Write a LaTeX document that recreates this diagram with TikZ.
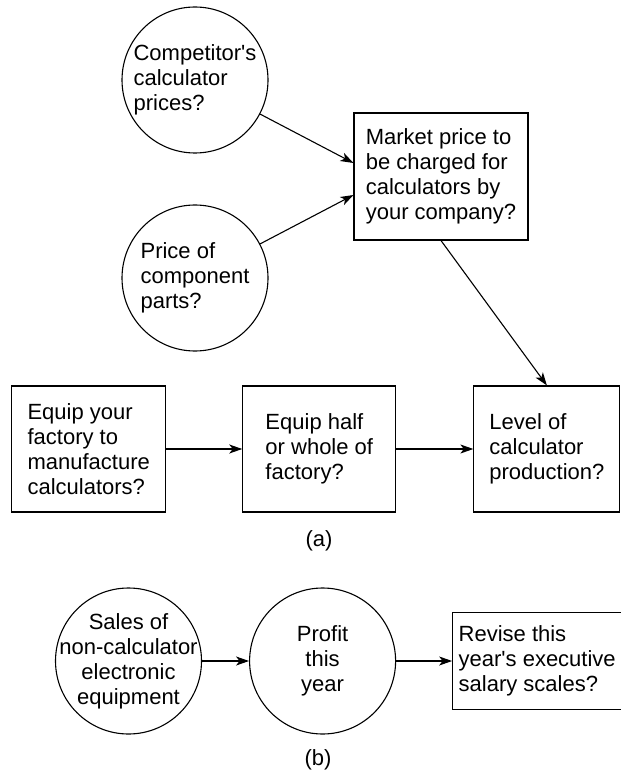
\documentclass[tikz,border=0pt]{standalone}
\usepackage{fontspec}
\setmainfont{Liberation Sans}
\usetikzlibrary{positioning, arrows.meta, calc}

\begin{document}
\begin{tikzpicture}[
    x=1pt, y=-1pt,
    every node/.style={font=\fontsize{22}{25}\selectfont},
    line width=1.1pt,
    >={Stealth[length=13pt, width=9pt, inset=3.5pt]},
    bubble/.style={circle, draw, minimum size=146pt, inner sep=0pt},
    qtext/.style={align=left, inner sep=0pt},
    qbox/.style={draw, rectangle, align=left, minimum height=126pt}
]
\useasboundingbox (0,0) rectangle (620,775);

% Part (a): inputs to the market price
\node[bubble, label={[qtext]center:{Competitor\textquotesingle s\\calculator\\prices?}}] (comp) at (195,80) {};
\node[bubble, label={[qtext]center:{Price of\\component\\parts?}}] (parts) at (195,278) {};
\node[qbox, minimum width=174pt, minimum height=127pt] (market) at (441,176.5)
    {Market price to\\be charged for\\calculators by\\your company?};

% Part (a): bottom row of decisions
\node[qbox, minimum width=154pt] (equip) at (88.7,449)
    {Equip your\\factory to\\manufacture\\calculators?};
\node[qbox, minimum width=153pt, right=76pt of equip] (half)
    {Equip half\\or whole of\\factory?};
\node[qbox, minimum width=146pt, right=77pt of half] (level)
    {Level of\\calculator\\production?};

\draw[->] (comp) -- ($(market.west)+(0,-13.5)$);
\draw[->] (parts) -- ($(market.west)+(0,18.5)$);
\draw[->] (market.south) -- (level.north);
\draw[->] (equip) -- (half);
\draw[->] (half) -- (level);

\node (capa) at (319,541) {(a)};

% Part (b)
\node[bubble, label={[qtext, align=center]center:{Sales of\\non-calculator\\electronic\\equipment}}] (sales) at (128.5,661) {};
\node[bubble, right=47pt of sales, label={[qtext, align=center]center:{Profit\\this\\year}}] (profit) {};
\node[qbox, minimum width=169pt, minimum height=97pt, right=56pt of profit] (revise)
    {Revise this\\year\textquotesingle s executive\\salary scales?};

\draw[->] (sales) -- (profit);
\draw[->] (profit) -- (revise);

\node (capb) at (318,760) {(b)};

\end{tikzpicture}
\end{document}
